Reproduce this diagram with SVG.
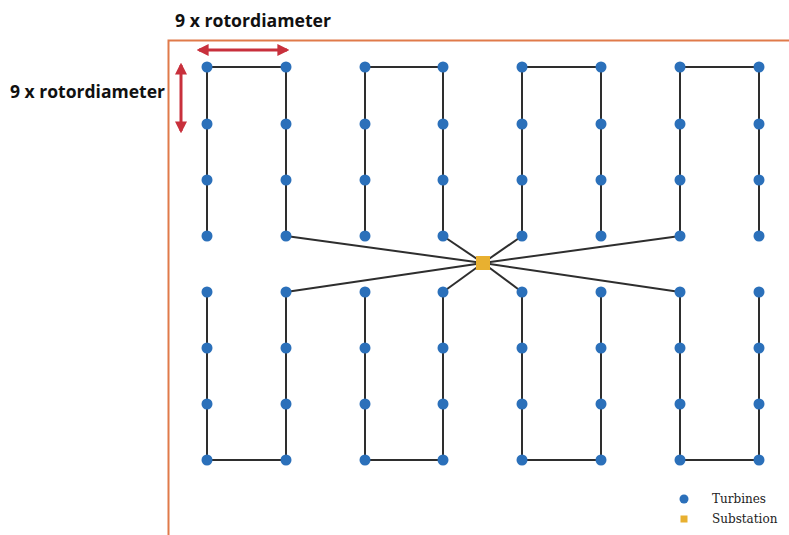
<svg xmlns="http://www.w3.org/2000/svg" width="789" height="535" viewBox="0 0 789 535">
<style>
.t{fill:#2b70ba}
.c line,.c polyline{stroke:#2e2e2e;stroke-width:2;fill:none}
.dim{stroke:#c8303c;stroke-width:3;fill:none}
.lbl{font-family:"Open Sans","Liberation Sans",sans-serif;font-weight:bold;font-size:17px;fill:#111}
.leg{font-family:"DejaVu Serif","Liberation Serif",serif;font-size:12px;fill:#222}
</style>
<defs>
<marker id="ah" viewBox="0 0 10 10" refX="8" refY="5" markerWidth="4" markerHeight="4" orient="auto-start-reverse" markerUnits="strokeWidth">
<path d="M0,0 L10,5 L0,10 z" fill="#c8303c"/>
</marker>
</defs>
<rect width="789" height="535" fill="#fff"/>
<path d="M168.5,535 V40.5 H789" stroke="#e07a4a" stroke-width="2" fill="none"/>
<text class="lbl" x="175" y="27" textLength="156" lengthAdjust="spacingAndGlyphs">9 x rotordiameter</text>
<text class="lbl" x="10" y="98" textLength="155" lengthAdjust="spacingAndGlyphs">9 x rotordiameter</text>
<line class="dim" x1="199" y1="50" x2="287" y2="50" marker-start="url(#ah)" marker-end="url(#ah)"/>
<line class="dim" x1="181" y1="65" x2="181" y2="131" marker-start="url(#ah)" marker-end="url(#ah)"/>
<g id="connectors" class="c">
<polyline points="207,236 207,67 286,67 286,236"/>
<polyline points="365,236 365,67 443,67 443,236"/>
<polyline points="522,236 522,67 601,67 601,236"/>
<polyline points="680,236 680,67 759,67 759,236"/>
<polyline points="207,292 207,460 286,460 286,292"/>
<polyline points="365,292 365,460 443,460 443,292"/>
<polyline points="522,292 522,460 601,460 601,292"/>
<polyline points="680,292 680,460 759,460 759,292"/>
<line x1="286" y1="236" x2="483" y2="263"/>
<line x1="443" y1="236" x2="483" y2="263"/>
<line x1="522" y1="236" x2="483" y2="263"/>
<line x1="680" y1="236" x2="483" y2="263"/>
<line x1="286" y1="292" x2="483" y2="263"/>
<line x1="443" y1="292" x2="483" y2="263"/>
<line x1="522" y1="292" x2="483" y2="263"/>
<line x1="680" y1="292" x2="483" y2="263"/>
</g>
<g id="turbines" class="t">
<circle cx="207" cy="67" r="5.5"/><circle cx="286" cy="67" r="5.5"/><circle cx="365" cy="67" r="5.5"/><circle cx="443" cy="67" r="5.5"/><circle cx="522" cy="67" r="5.5"/><circle cx="601" cy="67" r="5.5"/><circle cx="680" cy="67" r="5.5"/><circle cx="759" cy="67" r="5.5"/>
<circle cx="207" cy="124" r="5.5"/><circle cx="286" cy="124" r="5.5"/><circle cx="365" cy="124" r="5.5"/><circle cx="443" cy="124" r="5.5"/><circle cx="522" cy="124" r="5.5"/><circle cx="601" cy="124" r="5.5"/><circle cx="680" cy="124" r="5.5"/><circle cx="759" cy="124" r="5.5"/>
<circle cx="207" cy="180" r="5.5"/><circle cx="286" cy="180" r="5.5"/><circle cx="365" cy="180" r="5.5"/><circle cx="443" cy="180" r="5.5"/><circle cx="522" cy="180" r="5.5"/><circle cx="601" cy="180" r="5.5"/><circle cx="680" cy="180" r="5.5"/><circle cx="759" cy="180" r="5.5"/>
<circle cx="207" cy="236" r="5.5"/><circle cx="286" cy="236" r="5.5"/><circle cx="365" cy="236" r="5.5"/><circle cx="443" cy="236" r="5.5"/><circle cx="522" cy="236" r="5.5"/><circle cx="601" cy="236" r="5.5"/><circle cx="680" cy="236" r="5.5"/><circle cx="759" cy="236" r="5.5"/>
<circle cx="207" cy="292" r="5.5"/><circle cx="286" cy="292" r="5.5"/><circle cx="365" cy="292" r="5.5"/><circle cx="443" cy="292" r="5.5"/><circle cx="522" cy="292" r="5.5"/><circle cx="601" cy="292" r="5.5"/><circle cx="680" cy="292" r="5.5"/><circle cx="759" cy="292" r="5.5"/>
<circle cx="207" cy="348" r="5.5"/><circle cx="286" cy="348" r="5.5"/><circle cx="365" cy="348" r="5.5"/><circle cx="443" cy="348" r="5.5"/><circle cx="522" cy="348" r="5.5"/><circle cx="601" cy="348" r="5.5"/><circle cx="680" cy="348" r="5.5"/><circle cx="759" cy="348" r="5.5"/>
<circle cx="207" cy="404" r="5.5"/><circle cx="286" cy="404" r="5.5"/><circle cx="365" cy="404" r="5.5"/><circle cx="443" cy="404" r="5.5"/><circle cx="522" cy="404" r="5.5"/><circle cx="601" cy="404" r="5.5"/><circle cx="680" cy="404" r="5.5"/><circle cx="759" cy="404" r="5.5"/>
<circle cx="207" cy="460" r="5.5"/><circle cx="286" cy="460" r="5.5"/><circle cx="365" cy="460" r="5.5"/><circle cx="443" cy="460" r="5.5"/><circle cx="522" cy="460" r="5.5"/><circle cx="601" cy="460" r="5.5"/><circle cx="680" cy="460" r="5.5"/><circle cx="759" cy="460" r="5.5"/>
</g>
<g id="substation"><rect x="476" y="256" width="14" height="14" fill="#e8b030"/></g>
<g id="legend">
<circle cx="684" cy="499" r="4.5" class="t"/>
<text class="leg" x="712" y="503">Turbines</text>
<rect x="680.5" y="515.5" width="7" height="7" fill="#e8b030"/>
<text class="leg" x="712" y="523">Substation</text>
</g>
</svg>
